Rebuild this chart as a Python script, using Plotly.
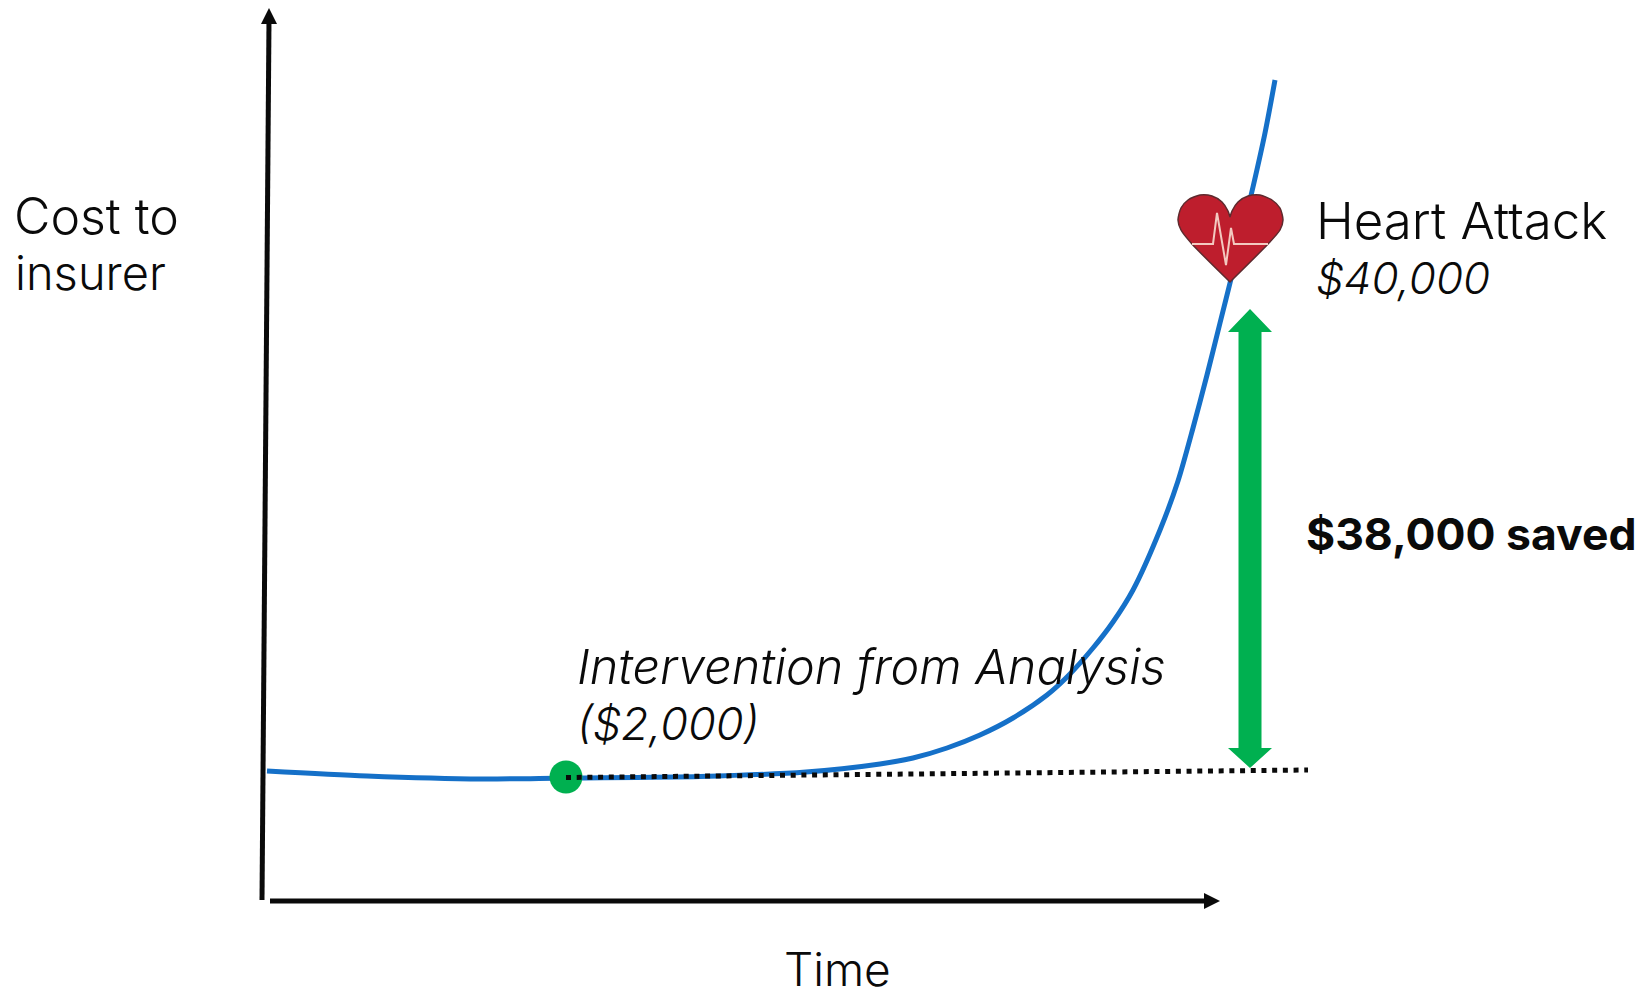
import plotly.graph_objects as go

# Cost curve (time, cost on the picture's own scale)
curve_time = [267, 367, 482, 566, 700, 806, 880, 913, 947, 980, 1013, 1047, 1067, 1093, 1113, 1133, 1160, 1178, 1193, 1207, 1220, 1230, 1253, 1265, 1275]
curve_cost = [771, 776, 779, 778, 776.5, 772, 764, 758, 748, 735, 718, 695, 677, 648, 622, 590, 530, 481, 428, 375, 323, 283, 187, 133, 80]

baseline_time = [566, 1308]
baseline_cost = [777.5, 770]
intervention_time = [566]
intervention_cost = [777]

yaxis_x = [262, 269]
yaxis_y = [900, 20]
yhead_x = [261, 269, 277]
yhead_y = [24, 8, 24]
xaxis_x = [270, 1206]
xaxis_y = [901, 901]
xhead_x = [1204, 1220, 1204]
xhead_y = [893, 901, 909]

saved_x = [1250, 1272, 1261.5, 1261.5, 1272, 1250, 1228, 1238.5, 1238.5, 1228, 1250]
saved_y = [309, 332, 332, 748, 748, 768, 748, 748, 332, 332, 309]

heart_x = [1230, 1268, 1280, 1283, 1280, 1272, 1260, 1248, 1238, 1232, 1230, 1230,
           1228, 1222, 1212, 1200, 1188, 1181, 1178, 1181, 1192, 1230, 1230]
heart_y = [282, 244, 230, 220, 208, 200, 195, 196, 202, 211, 217, 217,
           211, 202, 196, 195, 200, 208, 220, 230, 244, 282, 282]
pulse_x = [1192, 1213, 1217, 1226, 1231, 1234, 1268]
pulse_y = [244, 244, 213, 265, 228, 244, 244]

labels = [
    ("Cost to", 14, 216, 50, "normal", 300, "left"),
    ("insurer", 15, 272, 47, "normal", 300, "left"),
    ("Time", 837, 969, 46, "normal", 300, "center"),
    ("Heart Attack", 1316, 220, 51, "normal", 300, "left"),
    ("$40,000", 1316, 278, 44, "italic", 300, "left"),
    ("Intervention from Analysis", 577, 666, 48.5, "italic", 300, "left"),
    ("($2,000)", 577, 723, 45, "italic", 300, "left"),
    ("$38,000 saved", 1306, 534, 44.5, "normal", 700, "left"),
]

fig = go.Figure()
fig.add_trace(go.Scatter(x=curve_time, y=curve_cost, mode="lines",
                         line=dict(color="#1570C8", width=5, shape="spline", smoothing=0.8)))
fig.add_trace(go.Scatter(x=yaxis_x, y=yaxis_y, mode="lines", line=dict(color="#0A0A0A", width=5)))
fig.add_trace(go.Scatter(x=yhead_x, y=yhead_y, mode="lines", fill="toself", fillcolor="#0A0A0A", line=dict(width=0)))
fig.add_trace(go.Scatter(x=xaxis_x, y=xaxis_y, mode="lines", line=dict(color="#0A0A0A", width=5)))
fig.add_trace(go.Scatter(x=xhead_x, y=xhead_y, mode="lines", fill="toself", fillcolor="#0A0A0A", line=dict(width=0)))
fig.add_trace(go.Scatter(x=saved_x, y=saved_y, mode="lines", fill="toself", fillcolor="#00B050", line=dict(width=0)))
fig.add_trace(go.Scatter(x=intervention_time, y=intervention_cost, mode="markers",
                         marker=dict(color="#00B050", size=33)))
fig.add_trace(go.Scatter(x=baseline_time, y=baseline_cost, mode="lines",
                         line=dict(color="#0A0A0A", width=5, dash="5px,5.7px")))
fig.add_trace(go.Scatter(x=heart_x, y=heart_y, mode="lines", fill="toself", fillcolor="#BE1E2D",
                         line=dict(color="#5E2A2E", width=1.5, shape="spline", smoothing=0.7)))
fig.add_trace(go.Scatter(x=pulse_x, y=pulse_y, mode="lines", line=dict(color="#F3C9C0", width=2)))

for text, x, y, size, style, weight, anchor in labels:
    fig.add_annotation(x=x, y=y, xref="x", yref="y", text=text, showarrow=False,
                       xanchor=anchor, yanchor="middle", borderpad=0, borderwidth=0,
                       font=dict(family="Inter", size=size, color="#0A0A0A", style=style, weight=weight))

# The page sets the figure 8 px in from its top-left corner.
fig.update_layout(
    width=1636, height=990, margin=dict(l=0, r=0, t=0, b=0), showlegend=False,
    paper_bgcolor="white", plot_bgcolor="white",
    xaxis=dict(range=[8, 1644], visible=False, fixedrange=True),
    yaxis=dict(range=[998, 8], visible=False, fixedrange=True),
)
fig.write_html("out.html", config={"displayModeBar": False})
